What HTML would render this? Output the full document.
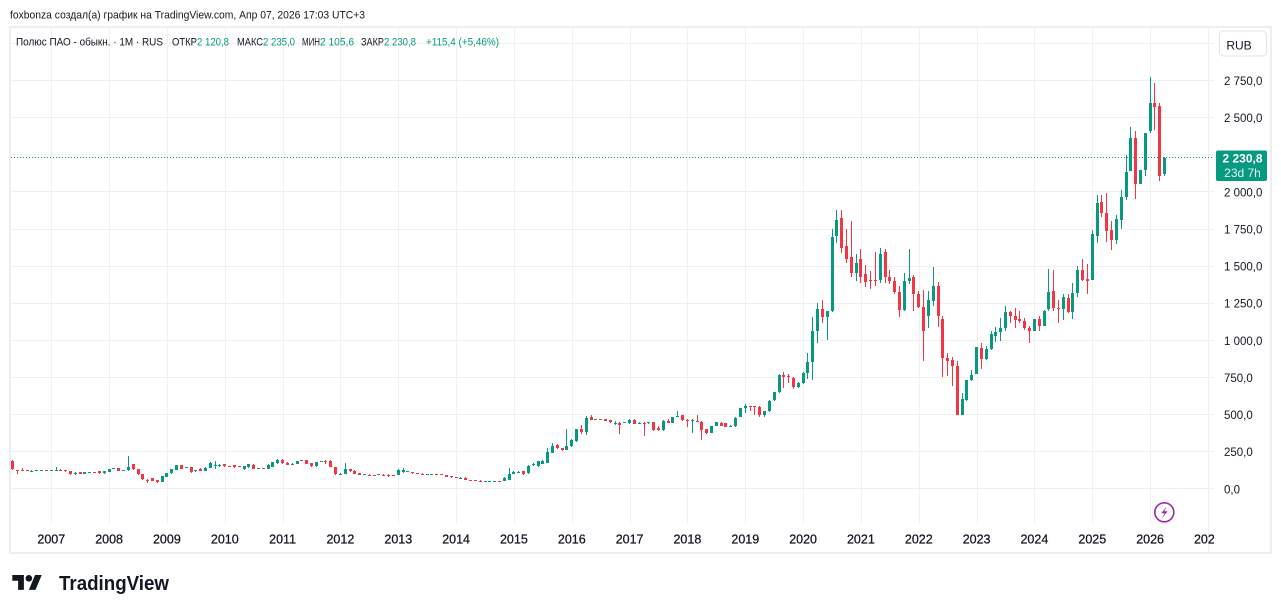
<!DOCTYPE html>
<html>
<head>
<meta charset="utf-8">
<style>
html,body{margin:0;padding:0;background:#fff;width:1281px;height:613px;overflow:hidden}
svg{display:block}
text{font-family:"Liberation Sans","DejaVu Sans",sans-serif}
</style>
</head>
<body>
<svg width="1281" height="613" viewBox="0 0 1281 613" xmlns="http://www.w3.org/2000/svg">
<defs>
<clipPath id="plotclip"><rect x="11" y="28" width="1203" height="524"/></clipPath>
</defs>
<rect width="1281" height="613" fill="#fff"/>

<text x="10" y="18.7" font-size="11" fill="#131722" textLength="355" lengthAdjust="spacingAndGlyphs">foxbonza создал(а) график на TradingView.com, Апр 07, 2026 17:03 UTC+3</text>

<!-- grid -->
<g stroke="#f0f0f0" stroke-width="1">
<line x1="11" x2="1214" y1="488.5" y2="488.5"/>
<line x1="11" x2="1214" y1="451.5" y2="451.5"/>
<line x1="11" x2="1214" y1="414.5" y2="414.5"/>
<line x1="11" x2="1214" y1="377.5" y2="377.5"/>
<line x1="11" x2="1214" y1="340.5" y2="340.5"/>
<line x1="11" x2="1214" y1="303.5" y2="303.5"/>
<line x1="11" x2="1214" y1="266.5" y2="266.5"/>
<line x1="11" x2="1214" y1="229.5" y2="229.5"/>
<line x1="11" x2="1214" y1="191.5" y2="191.5"/>
<line x1="11" x2="1214" y1="154.5" y2="154.5"/>
<line x1="11" x2="1214" y1="117.5" y2="117.5"/>
<line x1="11" x2="1214" y1="80.5" y2="80.5"/>
<line x1="11" x2="1214" y1="43.5" y2="43.5"/>
<line x1="51.5" x2="51.5" y1="28" y2="524"/>
<line x1="109.5" x2="109.5" y1="28" y2="524"/>
<line x1="167.5" x2="167.5" y1="28" y2="524"/>
<line x1="225.5" x2="225.5" y1="28" y2="524"/>
<line x1="283.5" x2="283.5" y1="28" y2="524"/>
<line x1="340.5" x2="340.5" y1="28" y2="524"/>
<line x1="398.5" x2="398.5" y1="28" y2="524"/>
<line x1="456.5" x2="456.5" y1="28" y2="524"/>
<line x1="514.5" x2="514.5" y1="28" y2="524"/>
<line x1="572.5" x2="572.5" y1="28" y2="524"/>
<line x1="630.5" x2="630.5" y1="28" y2="524"/>
<line x1="687.5" x2="687.5" y1="28" y2="524"/>
<line x1="745.5" x2="745.5" y1="28" y2="524"/>
<line x1="803.5" x2="803.5" y1="28" y2="524"/>
<line x1="861.5" x2="861.5" y1="28" y2="524"/>
<line x1="919.5" x2="919.5" y1="28" y2="524"/>
<line x1="977.5" x2="977.5" y1="28" y2="524"/>
<line x1="1034.5" x2="1034.5" y1="28" y2="524"/>
<line x1="1092.5" x2="1092.5" y1="28" y2="524"/>
<line x1="1150.5" x2="1150.5" y1="28" y2="524"/>
<line x1="1208.5" x2="1208.5" y1="28" y2="552"/>
</g>

<!-- frame -->
<rect x="10" y="27" width="1261" height="526" fill="none" stroke="#eceef1" stroke-width="2"/>

<!-- candles -->
<g id="cd"></g>

<!-- current price line -->
<line x1="11" x2="1214" y1="157.5" y2="157.5" stroke="#089981" stroke-width="1" stroke-dasharray="1 2" shape-rendering="crispEdges"/>

<!-- legend -->
<g font-size="11">
<text x="16" y="45.7" fill="#131722" textLength="147" lengthAdjust="spacingAndGlyphs">Полюс ПАО - обыкн. · 1M · RUS</text>
<text x="172" y="45.7" fill="#131722" textLength="25" lengthAdjust="spacingAndGlyphs">ОТКР</text>
<text x="197" y="45.7" fill="#089981" textLength="32" lengthAdjust="spacingAndGlyphs">2 120,8</text>
<text x="237" y="45.7" fill="#131722" textLength="26" lengthAdjust="spacingAndGlyphs">МАКС</text>
<text x="263" y="45.7" fill="#089981" textLength="32" lengthAdjust="spacingAndGlyphs">2 235,0</text>
<text x="302" y="45.7" fill="#131722" textLength="18" lengthAdjust="spacingAndGlyphs">МИН</text>
<text x="320" y="45.7" fill="#089981" textLength="34" lengthAdjust="spacingAndGlyphs">2 105,6</text>
<text x="361" y="45.7" fill="#131722" textLength="23" lengthAdjust="spacingAndGlyphs">ЗАКР</text>
<text x="384" y="45.7" fill="#089981" textLength="32" lengthAdjust="spacingAndGlyphs">2 230,8</text>
<text x="426" y="45.7" fill="#089981" textLength="73" lengthAdjust="spacingAndGlyphs">+115,4 (+5,46%)</text>
</g>

<!-- price axis labels -->
<g font-size="11.5" fill="#131722">
<text x="1224" y="493.3">0,0</text>
<text x="1224" y="456.2">250,0</text>
<text x="1224" y="419.1">500,0</text>
<text x="1224" y="382">750,0</text>
<text x="1224" y="344.9">1 000,0</text>
<text x="1224" y="307.7">1 250,0</text>
<text x="1224" y="270.6">1 500,0</text>
<text x="1224" y="233.5">1 750,0</text>
<text x="1224" y="196.4">2 000,0</text>
<text x="1224" y="159.3">2 250,0</text>
<text x="1224" y="122.2">2 500,0</text>
<text x="1224" y="85.1">2 750,0</text>
</g>

<!-- RUB box -->
<rect x="1219.5" y="31" width="47" height="25" rx="4" fill="#fff" stroke="#e0e3eb" stroke-width="1"/>
<text x="1239" y="49.3" font-size="12" fill="#131722" text-anchor="middle">RUB</text>

<!-- current price box -->
<rect x="1216" y="150.5" width="51" height="30.5" rx="2" fill="#089981"/>
<text x="1242.5" y="162.3" font-size="12" font-weight="bold" fill="#ffffff" text-anchor="middle">2 230,8</text>
<text x="1242.5" y="176.8" font-size="12" fill="#e3f4f0" text-anchor="middle">23d 7h</text>

<!-- time axis -->
<g font-size="12.5" fill="#131722" stroke="#131722" stroke-width="0.25" text-anchor="middle" clip-path="url(#plotclip)">
<text x="51.3" y="543.3">2007</text>
<text x="109.1" y="543.3">2008</text>
<text x="166.9" y="543.3">2009</text>
<text x="224.8" y="543.3">2010</text>
<text x="282.6" y="543.3">2011</text>
<text x="340.4" y="543.3">2012</text>
<text x="398.3" y="543.3">2013</text>
<text x="456.1" y="543.3">2014</text>
<text x="513.9" y="543.3">2015</text>
<text x="571.8" y="543.3">2016</text>
<text x="629.6" y="543.3">2017</text>
<text x="687.4" y="543.3">2018</text>
<text x="745.3" y="543.3">2019</text>
<text x="803.1" y="543.3">2020</text>
<text x="860.9" y="543.3">2021</text>
<text x="918.8" y="543.3">2022</text>
<text x="976.6" y="543.3">2023</text>
<text x="1034.4" y="543.3">2024</text>
<text x="1092.3" y="543.3">2025</text>
<text x="1150.1" y="543.3">2026</text>
<text x="1207.9" y="543.3">2027</text>
</g>

<!-- lightning icon -->
<circle cx="1164.3" cy="512.3" r="9.5" fill="#fff" stroke="#9c27b0" stroke-width="1.6"/>
<path d="M1166.8 506.3 L1161.2 513.2 L1164.6 513.2 L1161.9 518.4 L1167.6 511.3 L1164.2 511.3 Z" fill="#9c27b0"/>

<!-- TradingView logo -->
<g transform="translate(12.3,571.7) scale(0.828)" fill="#131722">
<path d="M14 22H7V11H0V4h14v18z"/>
<path d="M28 22h-8l7.5-18h8L28 22z"/>
<circle cx="20" cy="8" r="4"/>
</g>
<text x="59" y="590" font-size="20" font-weight="bold" fill="#131722" textLength="110" lengthAdjust="spacingAndGlyphs">TradingView</text>
</svg>

<script>
(function(){
var D=[
[190,195,130,133],[127,130,103,121],[125,140,118,120],[124,130,119,121],[119,124,113,121],[120,128,117,126],[125,127,124,126],[126,127,124,125],[124,130,122,127],[125,146,123,130],
[130,134,118,122],[125,127,113,117],[117,118,95,99],[98,110,96,106],[112,115,100,102],[103,115,101,112],[111,114,110,112],[112,114,110,111],[117,119,102,104],[105,120,103,117],
[113,133,111,131],[134,143,132,137],[137,140,118,120],[122,130,120,127],[124,222,122,150],[166,170,130,133],[135,136,95,99],[100,102,62,65],[62,64,36,55],[72,74,50,54],
[58,60,40,45],[48,85,46,83],[82,108,80,106],[104,135,102,133],[130,160,128,157],[157,160,133,136],[145,148,143,147],[147,150,108,110],[117,130,112,126],[135,138,118,120],
[120,145,118,143],[140,178,138,174],[151,185,134,162],[153,165,150,161],[164,166,150,153],[152,154,147,149],[157,160,143,146],[152,155,145,147],[133,155,129,152],[145,168,143,165],
[163,165,132,134],[140,142,138,141],[141,142,138,140],[135,164,132,160],[150,182,148,180],[173,198,170,195],[196,199,170,172],[176,178,158,160],[166,172,160,170],[166,190,164,188],
[192,196,185,187],[192,196,165,168],[172,175,150,153],[152,182,148,178],[186,189,184,187],[190,192,168,185],[190,192,145,148],[146,148,92,102],[100,104,96,103],[103,177,100,136],
[133,135,115,117],[122,124,100,102],[106,108,90,93],[95,99,93,97],[96,98,88,92],[95,96,92,94],[95,100,93,98],[96,97,92,94],[96,97,82,90],[95,96,90,92],
[92,132,90,129],[110,140,108,130],[115,120,112,118],[110,112,102,105],[106,107,102,104],[102,104,96,97],[96,102,94,100],[100,102,98,101],[100,102,97,98],[97,99,95,96],
[90,92,77,79],[85,87,76,78],[81,82,71,74],[72,78,70,76],[76,77,56,57],[58,60,55,56],[56,58,52,54],[54,56,50,52],[52,54,50,53],[53,55,51,54],
[53,55,51,53],[54,55,51,52],[52,78,50,76],[60,137,58,101],[101,120,98,116],[110,119,108,116],[117,120,95,101],[105,158,103,155],[160,172,155,168],[155,188,150,184],
[170,195,168,188],[177,274,175,245],[241,310,239,290],[296,300,270,274],[275,278,255,258],[263,404,260,290],[285,335,283,330],[325,402,315,400],[404,430,372,380],[380,492,365,480],
[487,498,463,465],[468,472,466,470],[470,472,462,464],[470,472,455,460],[462,465,445,448],[444,458,430,445],[445,448,368,430],[448,452,445,450],[440,470,438,465],[465,468,435,437],
[440,448,435,445],[445,447,359,442],[440,452,438,448],[447,450,390,393],[410,420,390,394],[394,462,392,457],[458,470,440,445],[445,485,443,482],[490,524,485,492],[495,500,460,462],
[465,467,415,462],[460,470,375,465],[455,498,450,452],[453,458,326,397],[400,402,370,375],[375,426,373,424],[424,451,420,449],[445,448,420,426],[440,442,415,418],[418,428,416,420],
[420,482,418,480],[485,546,482,541],[543,572,509,555],[555,561,521,553],[555,560,500,552],[549,560,487,500],[500,525,484,522],[522,596,520,589],[595,655,590,649],[650,770,648,768],
[768,784,680,752],[760,775,710,752],[745,750,670,686],[688,720,680,713],[713,786,705,779],[782,914,739,851],[857,1156,735,1064],[1065,1250,985,1211],[1211,1272,1118,1160],[1160,1198,999,1198],
[1196,1749,1192,1697],[1706,1878,1654,1811],[1822,1878,1587,1621],[1637,1749,1520,1549],[1560,1805,1430,1452],[1452,1582,1403,1524],[1547,1614,1385,1430],[1448,1509,1358,1394],[1408,1468,1345,1397],[1408,1594,1364,1397],
[1408,1620,1386,1583],[1594,1616,1386,1424],[1426,1473,1380,1397],[1403,1426,1310,1323],[1327,1368,1155,1202],[1202,1451,1195,1401],[1397,1614,1380,1421],[1426,1438,1196,1311],[1313,1333,1220,1224],[1224,1340,864,1060],
[1167,1335,1081,1273],[1268,1497,1232,1367],[1367,1396,1093,1161],[1145,1161,756,884],[884,913,757,864],[868,891,693,828],[828,862,494,498],[498,648,498,606],[599,733,590,733],[733,800,728,767],
[775,952,775,952],[950,981,808,876],[876,964,868,943],[941,1064,938,1044],[1030,1093,992,1057],[1057,1151,996,1084],[1082,1233,1066,1192],[1192,1195,1120,1161],[1165,1216,1086,1138],[1145,1198,1115,1127],
[1131,1149,1070,1080],[1083,1096,985,1063],[1063,1141,1063,1141],[1145,1161,1063,1100],[1100,1206,1096,1201],[1212,1482,1200,1327],[1333,1475,1200,1218],[1217,1272,1115,1213],[1210,1315,1140,1293],[1288,1315,1185,1194],
[1188,1385,1142,1318],[1318,1502,1295,1475],[1475,1549,1397,1408],[1415,1515,1311,1397],[1404,1744,1404,1717],[1700,1981,1653,1924],[1931,1981,1830,1855],[1857,1992,1660,1738],[1742,1804,1610,1677],[1677,1843,1646,1816],
[1812,2014,1752,1964],[1963,2249,1947,2133],[2144,2440,2144,2362],[2362,2412,1953,2050],[2054,2150,2050,2148],[2148,2400,2108,2400],[2411,2777,2396,2597],[2597,2732,2416,2575],[2579,2597,2071,2110],[2120.8,2235,2105.6,2230.8]
];
function Y(v){return 488.8-v*0.14845;}
var s='';
for(var i=0;i<D.length;i++){
  var o=D[i][0],h=D[i][1],l=D[i][2],c=D[i][3];
  var x=Math.floor(12.7+4.8195*i);
  var col=c>=o?'#089981':'#F23645';
  var yh=Math.round(Y(h)), yl=Math.round(Y(l));
  var bt=Math.round(Y(Math.max(o,c))), bb=Math.round(Y(Math.min(o,c)));
  if(bb-bt<1) bb=bt+1;
  var wh=Math.max(1,yl-yh);
  s+='<rect x="'+x+'" y="'+yh+'" width="1" height="'+wh+'" fill="'+col+'"/>';
  s+='<rect x="'+(x-1)+'" y="'+bt+'" width="3" height="'+(bb-bt)+'" fill="'+col+'"/>';
}
document.getElementById('cd').innerHTML=s;
})();
</script>
</body>
</html>
